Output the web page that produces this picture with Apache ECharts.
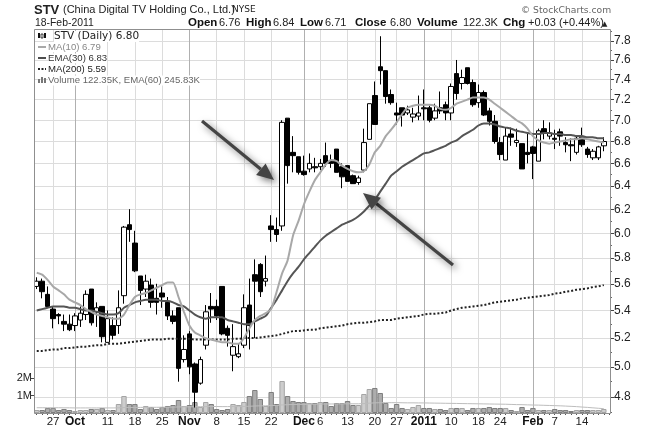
<!DOCTYPE html>
<html><head><meta charset="utf-8">
<style>html,body{margin:0;padding:0;background:#fff}#c{width:645px;height:430px}</style>
<script src="https://cdn.jsdelivr.net/npm/echarts@6/dist/echarts.min.js"></script>
</head><body><div id="c"></div>
<script>
const categories = ["Sep 22","Sep 23","Sep 24","Sep 27","Sep 28","Sep 29","Sep 30","Oct 1","Oct 4","Oct 5","Oct 6","Oct 7","Oct 8","Oct 11","Oct 12","Oct 13","Oct 14","Oct 15","Oct 18","Oct 19","Oct 20","Oct 21","Oct 22","Oct 25","Oct 26","Oct 27","Oct 28","Oct 29","Nov 1","Nov 2","Nov 3","Nov 4","Nov 5","Nov 8","Nov 9","Nov 10","Nov 11","Nov 12","Nov 15","Nov 16","Nov 17","Nov 18","Nov 19","Nov 22","Nov 23","Nov 24","Nov 26","Nov 29","Nov 30","Dec 1","Dec 2","Dec 3","Dec 6","Dec 7","Dec 8","Dec 9","Dec 10","Dec 13","Dec 14","Dec 15","Dec 16","Dec 17","Dec 20","Dec 21","Dec 22","Dec 23","Dec 27","Dec 28","Dec 29","Dec 30","Dec 31","Jan 3","Jan 4","Jan 5","Jan 6","Jan 7","Jan 10","Jan 11","Jan 12","Jan 13","Jan 14","Jan 18","Jan 19","Jan 20","Jan 21","Jan 24","Jan 25","Jan 26","Jan 27","Jan 28","Jan 31","Feb 1","Feb 2","Feb 3","Feb 4","Feb 7","Feb 8","Feb 9","Feb 10","Feb 11","Feb 14","Feb 15","Feb 16","Feb 17","Feb 18",""];
const minorTicks = {"Sep 27":"27","Oct 11":"11","Oct 18":"18","Oct 25":"25","Nov 8":"8","Nov 15":"15","Nov 22":"22","Dec 6":"6","Dec 13":"13","Dec 20":"20","Dec 27":"27","Jan 10":"10","Jan 18":"18","Jan 24":"24","Feb 7":"7","Feb 14":"14"};
const majorTicks = {"Oct 1":"Oct","Nov 1":"Nov","Dec 1":"Dec","Jan 3":"2011","Feb 1":"Feb"};
const priceTicks = [4.8,5.0,5.2,5.4,5.6,5.8,6.0,6.2,6.4,6.6,6.8,7.0,7.2,7.4,7.6,7.8];
const priceMinorTicks = [4.7,4.9,5.1,5.3,5.5,5.7,5.9,6.1,6.3,6.5,6.7,6.9,7.1,7.3,7.5,7.7,7.9];

const opens = [5.58,5.62,5.52,5.41,5.37,5.32,5.30,5.29,5.33,5.37,5.56,5.39,5.43,5.17,5.29,5.29,5.51,6.07,5.92,5.66,5.56,5.59,5.49,5.53,5.46,5.36,5.42,5.05,5.23,5.02,4.89,5.15,5.43,5.43,5.58,5.27,5.08,5.07,5.15,5.44,5.67,5.75,5.62,6.06,6.03,6.06,7.02,6.70,6.66,6.53,6.55,6.57,6.57,6.67,6.62,6.73,6.57,6.58,6.49,6.43,6.54,6.82,7.24,7.53,7.49,7.25,7.07,7.12,7.07,7.03,7.04,7.12,7.12,7.02,7.12,7.15,7.07,7.46,7.36,7.52,7.37,7.17,7.27,7.09,6.99,6.79,6.63,6.87,6.79,6.78,6.70,6.75,6.62,6.92,6.85,6.83,6.89,6.79,6.77,6.70,6.84,6.73,6.65,6.65,6.76];
const closes = [5.62,5.54,5.43,5.34,5.36,5.30,5.26,5.36,5.38,5.52,5.31,5.42,5.21,5.34,5.22,5.42,6.05,6.03,5.70,5.55,5.62,5.46,5.46,5.50,5.36,5.32,4.99,5.12,5.00,4.83,5.05,5.39,5.41,5.36,5.23,5.22,5.14,5.09,5.42,5.29,5.62,5.54,5.64,6.03,5.99,6.98,6.58,6.67,6.52,6.50,6.60,6.56,6.60,6.60,6.60,6.52,6.48,6.44,6.42,6.47,6.79,7.16,6.96,7.49,7.23,7.17,7.05,7.05,7.10,7.06,7.07,7.11,7.00,7.09,7.09,7.07,7.33,7.26,7.42,7.36,7.15,7.27,7.05,6.99,6.80,6.68,6.85,6.84,6.81,6.55,6.68,6.69,6.90,6.88,6.88,6.82,6.85,6.77,6.76,6.83,6.77,6.68,6.71,6.75,6.80];
const lows = [5.56,5.49,5.42,5.27,5.30,5.25,5.25,5.25,5.28,5.33,5.29,5.28,5.17,5.17,5.19,5.23,5.45,5.93,5.69,5.44,5.50,5.42,5.37,5.42,5.33,5.30,4.90,5.03,4.95,4.73,4.88,5.12,5.31,5.33,5.22,5.14,4.97,5.06,5.13,5.12,5.20,5.50,5.58,5.93,5.93,6.02,6.42,6.52,6.50,6.49,6.52,6.52,6.54,6.57,6.56,6.52,6.38,6.44,6.42,6.41,6.52,6.82,6.96,7.35,7.16,7.15,6.96,6.94,7.05,6.98,7.00,7.00,6.98,7.00,7.06,7.00,7.00,7.20,7.30,7.35,7.13,7.12,7.04,6.95,6.78,6.63,6.63,6.76,6.75,6.55,6.60,6.46,6.62,6.82,6.82,6.73,6.76,6.70,6.62,6.68,6.75,6.65,6.63,6.63,6.71];
const highs = [5.65,5.64,5.58,5.43,5.38,5.37,5.37,5.38,5.43,5.55,5.56,5.46,5.43,5.40,5.35,5.55,6.06,6.20,6.02,5.66,5.67,5.64,5.60,5.58,5.50,5.40,5.42,5.22,5.25,5.03,5.07,5.44,5.53,5.48,5.58,5.29,5.30,5.16,5.52,5.64,5.79,5.76,5.82,6.15,6.13,7.00,7.02,6.85,6.66,6.67,6.69,6.65,6.64,6.79,6.68,6.73,6.60,6.58,6.50,6.49,6.92,7.16,7.38,7.85,7.49,7.30,7.17,7.12,7.14,7.12,7.24,7.30,7.14,7.16,7.28,7.18,7.36,7.60,7.50,7.52,7.40,7.35,7.29,7.12,7.05,6.84,6.93,6.93,6.92,6.78,6.87,6.76,6.92,7.00,6.98,6.91,6.92,6.84,6.83,6.85,6.93,6.75,6.73,6.76,6.84];
const ma10 = [5.685,5.67,5.63,5.58,5.55,5.52,5.48,5.46,5.44,5.41,5.39,5.37,5.36,5.35,5.34,5.34,5.37,5.44,5.50,5.52,5.53,5.55,5.57,5.59,5.61,5.61,5.50,5.39,5.29,5.24,5.22,5.20,5.19,5.18,5.17,5.17,5.16,5.16,5.20,5.27,5.33,5.36,5.38,5.41,5.54,5.68,5.78,5.98,6.10,6.24,6.35,6.45,6.52,6.59,6.63,6.62,6.58,6.55,6.53,6.52,6.53,6.59,6.70,6.76,6.85,6.91,6.98,7.06,7.12,7.14,7.15,7.15,7.15,7.14,7.11,7.10,7.12,7.16,7.18,7.20,7.22,7.22,7.22,7.20,7.16,7.12,7.08,7.04,7.00,6.97,6.92,6.85,6.81,6.79,6.78,6.79,6.80,6.81,6.82,6.82,6.83,6.82,6.81,6.80,6.79];
const ema30 = [5.40,5.41,5.42,5.43,5.43,5.43,5.42,5.42,5.41,5.40,5.40,5.39,5.38,5.37,5.37,5.38,5.42,5.44,5.46,5.47,5.48,5.48,5.48,5.47,5.47,5.46,5.44,5.43,5.40,5.37,5.35,5.34,5.35,5.35,5.35,5.33,5.32,5.31,5.30,5.30,5.32,5.34,5.36,5.42,5.48,5.55,5.62,5.68,5.73,5.79,5.84,5.89,5.94,5.98,6.01,6.04,6.07,6.09,6.11,6.14,6.18,6.23,6.28,6.35,6.42,6.49,6.53,6.57,6.60,6.63,6.66,6.69,6.70,6.72,6.74,6.76,6.79,6.81,6.85,6.88,6.91,6.95,6.97,6.97,6.96,6.94,6.93,6.92,6.90,6.89,6.88,6.87,6.87,6.88,6.88,6.87,6.87,6.86,6.86,6.85,6.85,6.84,6.84,6.83,6.83];
const ma200 = [5.11,5.11,5.115,5.12,5.12,5.13,5.13,5.135,5.14,5.14,5.145,5.15,5.15,5.16,5.16,5.16,5.165,5.17,5.175,5.18,5.185,5.19,5.19,5.19,5.195,5.195,5.195,5.195,5.195,5.19,5.19,5.19,5.19,5.19,5.19,5.19,5.195,5.195,5.20,5.20,5.20,5.205,5.21,5.215,5.22,5.23,5.24,5.25,5.25,5.255,5.26,5.26,5.27,5.275,5.28,5.285,5.29,5.30,5.305,5.31,5.31,5.315,5.32,5.33,5.33,5.33,5.34,5.345,5.35,5.355,5.36,5.37,5.375,5.375,5.38,5.385,5.40,5.41,5.42,5.425,5.43,5.435,5.44,5.45,5.46,5.465,5.47,5.475,5.48,5.49,5.495,5.50,5.505,5.51,5.515,5.525,5.53,5.54,5.545,5.555,5.56,5.565,5.575,5.58,5.59];
const volumeK = [171,171,286,286,171,229,171,114,171,171,229,229,286,171,171,514,971,514,514,229,400,343,229,343,400,457,743,400,457,629,343,629,514,229,171,229,514,457,629,971,1314,800,400,1200,514,1829,971,686,629,629,571,571,629,629,400,571,571,686,457,457,1086,1371,1429,1143,571,286,514,286,229,343,457,286,286,229,229,171,286,286,286,171,286,286,286,343,286,286,286,171,114,343,171,286,171,171,171,229,171,171,114,171,171,171,171,171,229];
const volumeEma = [300,300,300,300,300,295,295,290,290,290,290,290,290,290,290,295,310,315,320,320,325,325,325,330,330,335,345,350,350,360,360,365,370,370,365,365,370,370,375,385,400,410,410,425,430,460,475,485,490,495,500,505,510,515,515,520,520,525,525,525,540,560,580,590,590,590,590,585,580,580,575,575,570,565,560,555,550,545,540,535,530,525,520,515,510,505,500,490,480,475,465,455,450,440,430,420,410,395,380,365,340,320,295,270,246];
const seriesLabels = {price:"STV (Daily) 6.80", ma10:"MA(10) 6.79", ema30:"EMA(30) 6.83", ma200:"MA(200) 5.59", volume:"Volume 122.35K, EMA(60) 245.83K"};

const SANS = '"Liberation Sans", Arial, sans-serif';
const candles = opens.map((o,i)=>[o,closes[i],lows[i],highs[i]]);
const volBars = volumeK.map((v,i)=>({value:v,itemStyle: closes[i]>=opens[i] ? {color:'#cdcdcd',borderColor:'#a4a4a4'} : {color:'#adadad',borderColor:'#7e7e7e'}}));

const chart = echarts.init(document.getElementById('c'),null,{renderer:'canvas'});
const txt=(x,y,text,font,fill,extra)=>({type:'text',x,y,silent:true,z:20,style:Object.assign({text,font,fill,textVerticalAlign:'middle'},extra||{})});
const arrow=(x1,y1,x2,y2)=>{
  const a=Math.atan2(y2-y1,x2-x1),L=17,W=7.5;
  const bx=x2-L*Math.cos(a),by=y2-L*Math.sin(a);
  const sh={shadowBlur:7,shadowColor:'rgba(0,0,0,0.55)',shadowOffsetX:3,shadowOffsetY:3};
  return [
    {type:'line',z:15,silent:true,shape:{x1,y1,x2:bx,y2:by},style:Object.assign({stroke:'#444',lineWidth:3.2},sh)},
    {type:'polygon',z:15,silent:true,shape:{points:[[x2,y2],[bx-W*Math.sin(a),by+W*Math.cos(a)],[bx+W*Math.sin(a),by-W*Math.cos(a)]]},style:Object.assign({fill:'#444'},sh)}
  ];
};
chart.setOption({
  animation:false,
  backgroundColor:'#fff',
  grid:{left:34,top:29,width:578,height:384,containLabel:false},
  xAxis:[
    {type:'category',data:categories,boundaryGap:true,
     axisLine:{show:false},
     axisTick:{show:true,alignWithLabel:true,interval:0,length:2,lineStyle:{color:'#555'}},
     axisLabel:{show:true,interval:(i,v)=>minorTicks[v]!==undefined||majorTicks[v]!==undefined,margin:3,hideOverlap:false,
       formatter:v=>majorTicks[v]?`{b|${majorTicks[v]}}`:(minorTicks[v]||''),
       fontFamily:SANS,fontSize:11.5,color:'#222',
       rich:{b:{fontFamily:SANS,fontSize:12,fontWeight:'bold',color:'#111'}}},
     splitLine:{show:true,alignWithLabel:true,interval:(i,v)=>minorTicks[v]!==undefined,lineStyle:{color:'#dcdcdc',width:1}}},
    {type:'category',data:categories,boundaryGap:true,position:'bottom',
     axisLine:{show:false},axisTick:{show:false},axisLabel:{show:false},
     splitLine:{show:true,alignWithLabel:true,interval:(i,v)=>majorTicks[v]!==undefined,lineStyle:{color:'#b0b0b0',width:1}}}
  ],
  yAxis:[
    {type:'log',logBase:Math.E,position:'right',offset:-2,min:4.695,max:7.928,
     axisLine:{show:false},
     axisTick:{show:true,inside:false,length:4,customValues:priceTicks,lineStyle:{color:'#444'}},
     axisLabel:{show:true,customValues:priceTicks,margin:4,padding:[2,0,0,0],fontFamily:SANS,fontSize:12,color:'#222',formatter:v=>(+v).toFixed(1)},
     splitLine:{show:true,lineStyle:{color:'#dcdcdc',width:1}},minorTick:{show:false},minorSplitLine:{show:false}},
    {type:'log',logBase:Math.E,position:'right',offset:-2,min:4.695,max:7.928,
     axisLine:{show:false},
     axisTick:{show:true,length:2,customValues:priceMinorTicks,lineStyle:{color:'#666'}},
     axisLabel:{show:false},splitLine:{show:false}},
    {type:'value',position:'left',min:0,max:21940,
     axisLine:{show:false},
     axisTick:{show:true,length:3,customValues:[1000,2000],lineStyle:{color:'#444'}},
     axisLabel:{show:true,customValues:[1000,2000],margin:2,fontFamily:SANS,fontSize:11,color:'#222',formatter:v=>(v/1000)+'M'},
     splitLine:{show:false}}
  ],
  series:[
    {type:'bar',name:'Volume',xAxisIndex:0,yAxisIndex:2,data:volBars,barWidth:5.4,z:2,itemStyle:{borderWidth:1}},
    {type:'line',name:'Volume EMA(60)',xAxisIndex:0,yAxisIndex:2,data:volumeEma,showSymbol:false,smooth:false,z:3,lineStyle:{color:'#bdbdbd',width:1}},
    {type:'candlestick',name:'STV',xAxisIndex:0,yAxisIndex:0,data:candles,barWidth:5,z:4,
     itemStyle:{color:'#fff',color0:'#000',borderColor:'#000',borderColor0:'#000',borderWidth:1}},
    {type:'line',name:'MA(200)',xAxisIndex:0,yAxisIndex:0,data:ma200,showSymbol:false,z:5,lineStyle:{color:'#222',width:2,type:[2,2]}},
    {type:'line',name:'EMA(30)',xAxisIndex:0,yAxisIndex:0,data:ema30,showSymbol:false,z:6,smooth:0.2,lineStyle:{color:'#555',width:2}},
    {type:'line',name:'MA(10)',xAxisIndex:0,yAxisIndex:0,data:ma10,showSymbol:false,z:7,smooth:0.2,lineStyle:{color:'#a8a8a8',width:2}}
  ],
  graphic:{elements:[
    {type:'rect',z:14,silent:true,shape:{x:34.5,y:29.5,width:576,height:384},style:{fill:'none',stroke:'#8f8f8f',lineWidth:1}},
    txt(34,10,'STV','bold 13px '+SANS,'#222'),
    txt(63,10,'(China Digital TV Holding Co., Ltd.)','11px '+SANS,'#222'),
    txt(232,10,'NYSE','9px "DejaVu Sans"','#222'),
    txt(35,23,'18-Feb-2011','10.4px '+SANS,'#222'),
    txt(188,23,'Open','bold 11.5px '+SANS,'#111'),
    txt(219,23,'6.76','11px '+SANS,'#222'),
    txt(246,23,'High','bold 11.5px '+SANS,'#111'),
    txt(273,23,'6.84','11px '+SANS,'#222'),
    txt(300,23,'Low','bold 11.5px '+SANS,'#111'),
    txt(325,23,'6.71','11px '+SANS,'#222'),
    txt(355,23,'Close','bold 11.5px '+SANS,'#111'),
    txt(390,23,'6.80','11px '+SANS,'#222'),
    txt(417,23,'Volume','bold 11.5px '+SANS,'#111'),
    txt(463,23,'122.3K','11px '+SANS,'#222'),
    txt(503,23,'Chg','bold 11.5px '+SANS,'#111'),
    txt(528,23,'+0.03 (+0.44%)','11px '+SANS,'#222'),
    txt(602,24,'▲','7px "DejaVu Sans"','#222'),
    txt(521,11,'© StockCharts.com','9.2px "DejaVu Sans"','#666'),
    txt(54,36.5,seriesLabels.price,'10.5px "DejaVu Sans"','#222',{backgroundColor:'#fff'}),
    txt(48,47,seriesLabels.ma10,'9.6px '+SANS,'#888',{backgroundColor:'#fff'}),
    txt(48,58.5,seriesLabels.ema30,'9.6px '+SANS,'#333',{backgroundColor:'#fff'}),
    txt(48,69.5,seriesLabels.ma200,'9.6px '+SANS,'#222',{backgroundColor:'#fff'}),
    txt(48,80.5,seriesLabels.volume,'9.6px '+SANS,'#666',{backgroundColor:'#fff'}),
    {type:'line',z:20,silent:true,shape:{x1:38,y1:47,x2:46,y2:47},style:{stroke:'#a8a8a8',lineWidth:2}},
    {type:'line',z:20,silent:true,shape:{x1:38,y1:58,x2:46,y2:58},style:{stroke:'#4d4d4d',lineWidth:2}},
    {type:'line',z:20,silent:true,shape:{x1:38,y1:69,x2:46,y2:69},style:{stroke:'#222',lineWidth:2,lineDash:[2,1.5]}},
    {type:'rect',z:20,silent:true,shape:{x:38,y:33,width:2,height:5},style:{fill:'#111'}},
    {type:'rect',z:20,silent:true,shape:{x:41,y:34,width:2,height:4},style:{fill:'#fff',stroke:'#111',lineWidth:0.8}},
    {type:'rect',z:20,silent:true,shape:{x:44,y:33,width:2,height:5},style:{fill:'#111'}},
    {type:'rect',z:20,silent:true,shape:{x:38,y:79,width:2,height:4},style:{fill:'#777'}},
    {type:'rect',z:20,silent:true,shape:{x:41,y:77,width:2,height:6},style:{fill:'#777'}},
    {type:'rect',z:20,silent:true,shape:{x:44,y:78,width:2,height:5},style:{fill:'#777'}},
    ...arrow(202,121,274,180),
    ...arrow(453,265,363,193)
  ]}
});
</script></body></html>
